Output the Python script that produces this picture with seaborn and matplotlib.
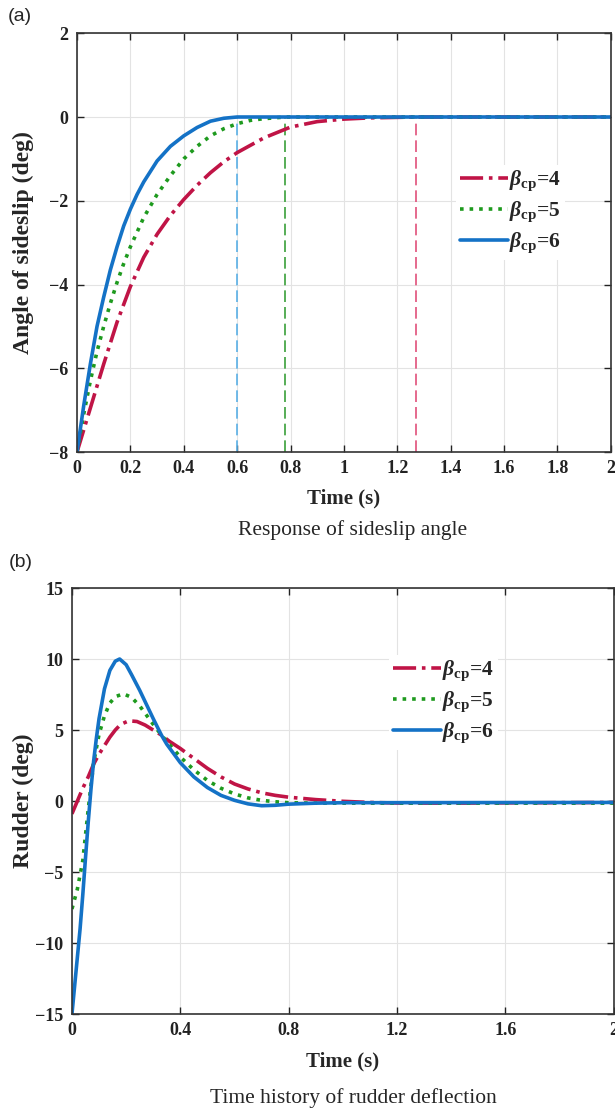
import matplotlib.pyplot as plt
import seaborn as sns

# (a) sideslip angle (deg)
t_side4 = [0, 0.05, 0.1, 0.15, 0.2, 0.25, 0.3, 0.35, 0.4, 0.45, 0.5, 0.55, 0.6, 0.7, 0.8, 0.9, 1.0, 1.1, 1.27, 2.0]
side4 = [-8, -6.95, -5.9, -4.9, -4.05, -3.35, -2.8, -2.35, -1.97, -1.63, -1.33, -1.07, -0.85, -0.5, -0.24, -0.11, -0.05, -0.02, 0, 0]
t_side5 = [0, 0.025, 0.05, 0.075, 0.1, 0.125, 0.15, 0.175, 0.2, 0.25, 0.3, 0.35, 0.4, 0.45, 0.5, 0.55, 0.6, 0.65, 0.7, 0.78, 2.0]
side5 = [-8, -7.1, -6.3, -5.6, -5.0, -4.45, -3.95, -3.5, -3.1, -2.4, -1.85, -1.4, -1.0, -0.7, -0.45, -0.28, -0.16, -0.08, -0.04, 0, 0]
t_side6 = [0, 0.025, 0.05, 0.075, 0.1, 0.125, 0.15, 0.175, 0.2, 0.225, 0.25, 0.3, 0.35, 0.4, 0.45, 0.5, 0.55, 0.6, 0.7, 2.0]
side6 = [-8, -6.9, -5.9, -5.0, -4.3, -3.65, -3.1, -2.6, -2.2, -1.85, -1.55, -1.05, -0.7, -0.45, -0.25, -0.1, -0.03, 0, 0, 0]
settle_times = [1.27, 0.78, 0.6]

# (b) rudder deflection (deg)
t_rud4 = [0, 0.02, 0.04, 0.06, 0.08, 0.1, 0.12, 0.14, 0.16, 0.18, 0.21, 0.24, 0.27, 0.3, 0.33, 0.36, 0.4, 0.45,
          0.5, 0.55, 0.6, 0.65, 0.7, 0.75, 0.8, 0.9, 1.0, 1.1, 1.2, 1.4, 1.6, 2.0]
rud4 = [-0.9, 0.0, 0.9, 1.7, 2.6, 3.3, 3.9, 4.5, 5.0, 5.4, 5.65, 5.6, 5.35, 5.0, 4.65, 4.2, 3.7, 3.0,
        2.3, 1.7, 1.2, 0.85, 0.58, 0.4, 0.27, 0.1, -0.02, -0.1, -0.14, -0.15, -0.13, -0.1]
t_rud5 = [0, 0.02, 0.04, 0.06, 0.08, 0.1, 0.12, 0.14, 0.16, 0.19, 0.22, 0.25, 0.3, 0.33, 0.35, 0.4, 0.45,
          0.5, 0.55, 0.6, 0.65, 0.7, 0.75, 0.8, 0.9, 2.0]
rud5 = [-7.6, -6.2, -4.2, -0.6, 2.7, 4.7, 6.0, 6.9, 7.35, 7.55, 7.3, 6.7, 5.4, 4.65, 4.2, 3.1, 2.2,
        1.45, 0.9, 0.5, 0.22, 0.05, -0.05, -0.12, -0.15, -0.15]
t_rud6 = [0, 0.01, 0.02, 0.03, 0.04, 0.05, 0.06, 0.07, 0.08, 0.09, 0.1, 0.12, 0.14, 0.16, 0.176, 0.2, 0.22,
          0.25, 0.3, 0.33, 0.35, 0.4, 0.45, 0.5, 0.55, 0.6, 0.65, 0.7, 0.75, 0.8, 0.9, 1.0, 2.0]
rud6 = [-15, -13, -11, -9, -6.6, -4.0, -1.5, 0.8, 2.8, 4.4, 5.8, 7.9, 9.2, 9.85, 10.0, 9.6, 8.9,
        7.8, 5.8, 4.65, 4.0, 2.7, 1.7, 0.95, 0.4, 0.05, -0.2, -0.33, -0.3, -0.22, -0.15, -0.12, -0.1]

labels = [r'$\beta_{\mathbf{cp}}$=4', r'$\beta_{\mathbf{cp}}$=5', r'$\beta_{\mathbf{cp}}$=6']
colors = ['#C01446', '#1E9A1E', '#1472C6']
vcolors = ['#E0507A', '#3AA03A', '#5AB0E6']
styles = ['-.', ':', '-']

sns.set_style('ticks')
plt.rcParams['font.family'] = ['Liberation Serif', 'DejaVu Serif']
plt.rcParams['font.weight'] = 'bold'
plt.rcParams['mathtext.fontset'] = 'custom'
plt.rcParams['mathtext.it'] = 'Liberation Serif:italic:bold'
plt.rcParams['mathtext.bf'] = 'Liberation Serif:bold'
plt.rcParams['mathtext.rm'] = 'Liberation Serif:bold'

fig = plt.figure(figsize=(6.15, 11.08), dpi=100)
ax1 = fig.add_axes([0.1252, 0.592, 0.868, 0.378])
ax2 = fig.add_axes([0.117, 0.0848, 0.881, 0.3845])

leg_kw = dict(loc='center left', fontsize=15.5, frameon=True, edgecolor='none', facecolor='white',
              framealpha=1, handlelength=2.2, handletextpad=0.05, labelspacing=0.3,
              borderpad=0.2, borderaxespad=0)


def style_axes(ax):
    ax.grid(True, color='#e3e3e3', lw=0.8)
    ax.set_axisbelow(True)
    for s in ax.spines.values():
        s.set_color('#333333')
        s.set_linewidth(1.2)
    ax.tick_params(direction='in', length=5, width=1, top=True, right=True,
                   labelsize=13, colors='#222222', pad=6)
    for lab in ax.get_xticklabels() + ax.get_yticklabels():
        lab.set_fontweight('bold')


# panel (a)
series_a = [(t_side4, side4), (t_side5, side5), (t_side6, side6)]
ax1.vlines(settle_times, -8, 0, colors=vcolors, linestyles=(0, (7, 3)), lw=1.2)
for (t, v), c, ls, lab in zip(series_a, colors, styles, labels):
    sns.lineplot(x=t, y=v, ax=ax1, color=c, linestyle=ls, lw=2.6, label=lab, sort=False)
ax1.set_xlim(0, 2)
ax1.set_ylim(-8, 2)
ax1.set_xticks([0, 0.2, 0.4, 0.6, 0.8, 1, 1.2, 1.4, 1.6, 1.8, 2])
ax1.set_xticklabels(['0', '0.2', '0.4', '0.6', '0.8', '1', '1.2', '1.4', '1.6', '1.8', '2'])
ax1.set_yticks([-8, -6, -4, -2, 0, 2])
style_axes(ax1)
ax1.set_xlabel('Time (s)', fontsize=15, fontweight='bold')
ax1.set_ylabel('Angle of sideslip (deg)', fontsize=17, fontweight='bold')
ax1.xaxis.set_label_coords(0.5, -0.086)
ax1.yaxis.set_label_coords(-0.08, 0.5)
ax1.legend(bbox_to_anchor=(0.71, 0.573), **leg_kw)

# panel (b)
series_b = [(t_rud4, rud4), (t_rud5, rud5), (t_rud6, rud6)]
for (t, v), c, ls, lab in zip(series_b, colors, styles, labels):
    sns.lineplot(x=t, y=v, ax=ax2, color=c, linestyle=ls, lw=2.6, label=lab, sort=False)
ax2.set_xlim(0, 2)
ax2.set_ylim(-15, 15)
ax2.set_xticks([0, 0.4, 0.8, 1.2, 1.6, 2])
ax2.set_xticklabels(['0', '0.4', '0.8', '1.2', '1.6', '2'])
ax2.set_yticks([-15, -10, -5, 0, 5, 10, 15])
style_axes(ax2)
ax2.set_xlabel('Time (s)', fontsize=15, fontweight='bold')
ax2.set_ylabel('Rudder (deg)', fontsize=17, fontweight='bold')
ax2.xaxis.set_label_coords(0.5, -0.087)
ax2.yaxis.set_label_coords(-0.07, 0.5)
ax2.legend(bbox_to_anchor=(0.585, 0.732), **leg_kw)

# panel tags and captions
fig.text(0.033, 0.9847, '(a)', fontsize=14, family='Liberation Sans', fontweight='normal', ha='center', va='center')
fig.text(0.033, 0.492, '(b)', fontsize=14, family='Liberation Sans', fontweight='normal', ha='center', va='center')
fig.text(0.574, 0.522, 'Response of sideslip angle', fontsize=15.5, fontweight='normal', ha='center', va='center')
fig.text(0.574, 0.009, 'Time history of rudder deflection', fontsize=15.5, fontweight='normal', ha='center', va='center')

fig.savefig('out.png', dpi=100)
